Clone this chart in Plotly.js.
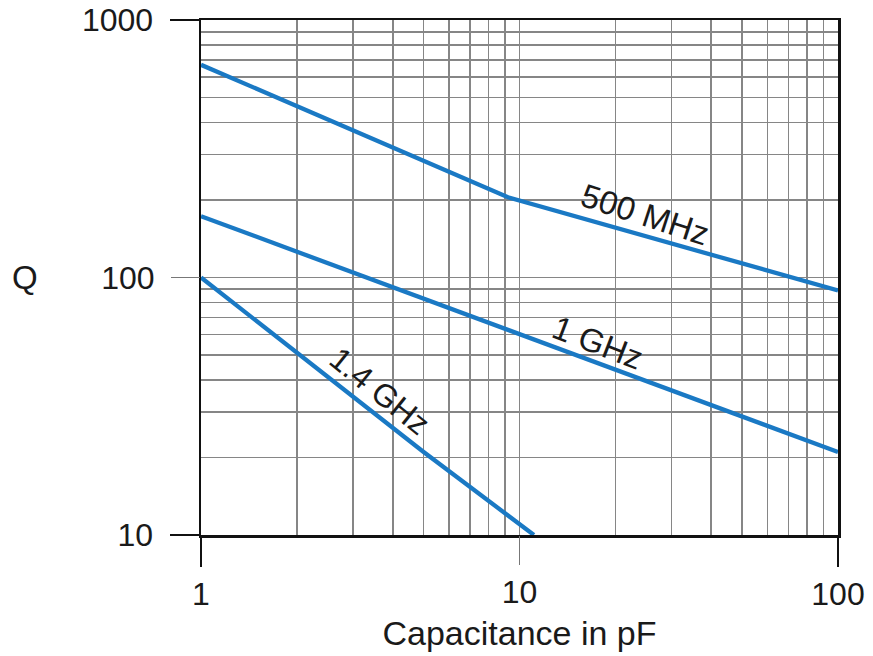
<!DOCTYPE html>
<html>
<head>
<meta charset="utf-8">
<script src="https://cdn.plot.ly/plotly-3.0.1.min.js"></script>
<style>
  html, body { margin: 0; padding: 0; background: #fff; }
  #chart { width: 873px; height: 656px; }
</style>
</head>
<body>
<div id="chart"></div>
<script>
// Capacitance (pF) and Q values
const cap500MHz = [1, 9.2, 100];
const q500MHz   = [670, 205, 89];

const cap1GHz = [1, 10, 100];
const q1GHz   = [173, 60, 21];

const cap1_4GHz = [1, 5, 11.1];
const q1_4GHz   = [100, 21, 10];

const seriesNames = ['500 MHz', '1 GHz', '1.4 GHz'];

// tick labels
const xTickMain = [1, 100];
const xTickMainText = ['1', '100'];
const xTickMid = [10];
const xTickMidText = ['10'];
const yTickMain = [10, 1000];
const yTickMainText = ['10', '1000'];
const yTickMid = [100];
const yTickMidText = ['100'];

const xTitle = 'Capacitance in pF';
const yTitle = 'Q';

const FONT = '"Liberation Sans", Arial, Helvetica, sans-serif';
const BLUE = '#1a79c4';
const GRID = '#868686';
const INK = '#1a1a1a';

const line = { color: BLUE, width: 4.3 };
const traces = [
  { x: cap500MHz, y: q500MHz, name: seriesNames[0], mode: 'lines', line: line },
  { x: cap1GHz, y: q1GHz, name: seriesNames[1], mode: 'lines', line: line },
  { x: cap1_4GHz, y: q1_4GHz, name: seriesNames[2], mode: 'lines', line: line },
  // empty trace so the overlay axes (middle ticks) are drawn
  { x: [], y: [], xaxis: 'x2', yaxis: 'y2', mode: 'lines', hoverinfo: 'skip', showlegend: false }
];

const tickFont = { family: FONT, size: 32, color: INK };

const layout = {
  width: 873, height: 656,
  margin: { l: 201, r: 35, t: 20, b: 121 },
  paper_bgcolor: '#fff', plot_bgcolor: '#fff',
  showlegend: false,
  font: { family: FONT, color: INK },
  xaxis: {
    type: 'log', range: [0, 2],
    tickvals: xTickMain, ticktext: xTickMainText,
    ticks: 'outside', ticklen: 29, tickwidth: 2.5, tickcolor: '#111',
    ticklabelstandoff: 0,
    tickfont: tickFont,
    showgrid: true, gridcolor: GRID, gridwidth: 1.6,
    minor: { dtick: 'D1', showgrid: true, gridcolor: GRID, gridwidth: 1.6, ticks: '' },
    showline: true, linecolor: '#111', linewidth: 2.5, mirror: true,
    zeroline: false,
    title: { text: xTitle, font: { family: FONT, size: 34, color: INK }, standoff: 11 }
  },
  yaxis: {
    type: 'log', range: [1, 3],
    tickvals: yTickMain, ticktext: yTickMainText,
    ticks: 'outside', ticklen: 29, tickwidth: 2.5, tickcolor: '#111',
    ticklabelstandoff: 10,
    tickfont: tickFont,
    showgrid: true, gridcolor: GRID, gridwidth: 1.6,
    minor: { dtick: 'D1', showgrid: true, gridcolor: GRID, gridwidth: 1.6, ticks: '' },
    showline: true, linecolor: '#111', linewidth: 2.5, mirror: true,
    zeroline: false
  },
  xaxis2: {
    type: 'log', range: [0, 2], overlaying: 'x', anchor: 'y2', side: 'bottom',
    tickvals: xTickMid, ticktext: xTickMidText,
    ticks: 'outside', ticklen: 29, tickwidth: 1.2, tickcolor: '#777',
    ticklabelstandoff: 0,
    tickfont: tickFont, showgrid: false, showline: false, zeroline: false
  },
  yaxis2: {
    type: 'log', range: [1, 3], overlaying: 'y', anchor: 'x2', side: 'left',
    tickvals: yTickMid, ticktext: yTickMidText,
    ticks: 'outside', ticklen: 29, tickwidth: 1.2, tickcolor: '#777',
    ticklabelstandoff: 10,
    tickfont: tickFont, showgrid: false, showline: false, zeroline: false
  },
  annotations: [
    { text: yTitle, xref: 'paper', yref: 'paper', x: -0.276, y: 0.5,
      xanchor: 'center', yanchor: 'middle', showarrow: false,
      font: { family: FONT, size: 33, color: INK } },
    { text: seriesNames[0], xref: 'x', yref: 'y', x: 1.395, y: 2.243,
      textangle: 18, showarrow: false, font: { family: FONT, size: 33, color: INK } },
    { text: seriesNames[1], xref: 'x', yref: 'y', x: 1.245, y: 1.746,
      textangle: 21, showarrow: false, font: { family: FONT, size: 33, color: INK } },
    { text: seriesNames[2], xref: 'x', yref: 'y', x: 0.561, y: 1.559,
      textangle: 39, showarrow: false, font: { family: FONT, size: 32, color: INK } }
  ]
};

Plotly.newPlot('chart', traces, layout, { staticPlot: true, displayModeBar: false });
</script>
</body>
</html>
